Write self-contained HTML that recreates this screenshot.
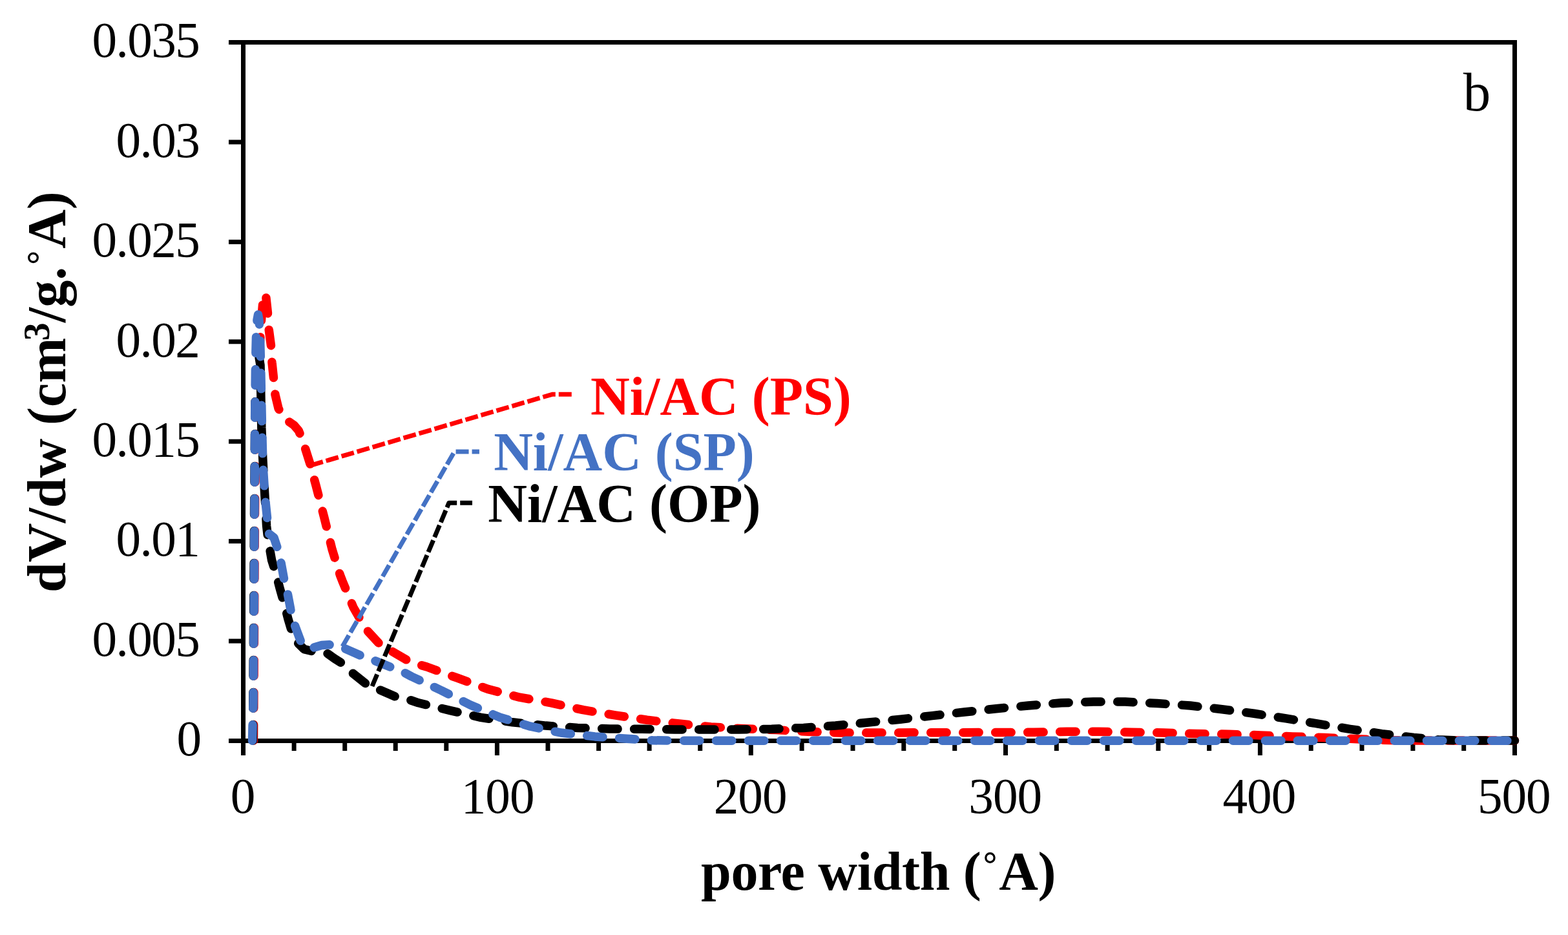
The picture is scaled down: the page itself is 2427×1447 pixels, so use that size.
<!DOCTYPE html><html><head><meta charset="utf-8"><style>html,body{margin:0;padding:0;background:#fff;overflow:hidden}svg{display:block}</style></head><body>
<svg width="2427" height="1447" viewBox="0 0 2427 1447">
<rect width="2427" height="1447" fill="#fff"/>
<rect x="376.5" y="65.5" width="1968" height="1081" fill="none" stroke="#000" stroke-width="7"/>
<g stroke="#000" stroke-width="7">
<line x1="354" y1="1146.5" x2="376.5" y2="1146.5"/>
<line x1="354" y1="992.1" x2="376.5" y2="992.1"/>
<line x1="354" y1="837.6" x2="376.5" y2="837.6"/>
<line x1="354" y1="683.2" x2="376.5" y2="683.2"/>
<line x1="354" y1="528.8" x2="376.5" y2="528.8"/>
<line x1="354" y1="374.4" x2="376.5" y2="374.4"/>
<line x1="354" y1="219.9" x2="376.5" y2="219.9"/>
<line x1="354" y1="65.5" x2="376.5" y2="65.5"/>
<line x1="376.5" y1="1146.5" x2="376.5" y2="1169"/>
<line x1="455.1" y1="1146.5" x2="455.1" y2="1162"/>
<line x1="533.7" y1="1146.5" x2="533.7" y2="1162"/>
<line x1="612.2" y1="1146.5" x2="612.2" y2="1162"/>
<line x1="690.8" y1="1146.5" x2="690.8" y2="1162"/>
<line x1="769.4" y1="1146.5" x2="769.4" y2="1169"/>
<line x1="848.0" y1="1146.5" x2="848.0" y2="1162"/>
<line x1="926.6" y1="1146.5" x2="926.6" y2="1162"/>
<line x1="1005.1" y1="1146.5" x2="1005.1" y2="1162"/>
<line x1="1083.7" y1="1146.5" x2="1083.7" y2="1162"/>
<line x1="1162.3" y1="1146.5" x2="1162.3" y2="1169"/>
<line x1="1241.1" y1="1146.5" x2="1241.1" y2="1162"/>
<line x1="1320.0" y1="1146.5" x2="1320.0" y2="1162"/>
<line x1="1398.8" y1="1146.5" x2="1398.8" y2="1162"/>
<line x1="1477.7" y1="1146.5" x2="1477.7" y2="1162"/>
<line x1="1556.5" y1="1146.5" x2="1556.5" y2="1169"/>
<line x1="1635.3" y1="1146.5" x2="1635.3" y2="1162"/>
<line x1="1714.1" y1="1146.5" x2="1714.1" y2="1162"/>
<line x1="1792.8" y1="1146.5" x2="1792.8" y2="1162"/>
<line x1="1871.6" y1="1146.5" x2="1871.6" y2="1162"/>
<line x1="1950.4" y1="1146.5" x2="1950.4" y2="1169"/>
<line x1="2029.2" y1="1146.5" x2="2029.2" y2="1162"/>
<line x1="2108.0" y1="1146.5" x2="2108.0" y2="1162"/>
<line x1="2186.9" y1="1146.5" x2="2186.9" y2="1162"/>
<line x1="2265.7" y1="1146.5" x2="2265.7" y2="1162"/>
<line x1="2344.5" y1="1146.5" x2="2344.5" y2="1169"/>
</g>
<g fill="none" stroke-width="13.5" stroke-linecap="round" stroke-linejoin="round" stroke-dasharray="24.5 25.5">
<polyline stroke="#FF0000" points="392.5,1146.0 394.5,790.0 396.0,660.0 400.0,560.0 403.0,522.0 404.5,496.0 406.5,472.0"/>
<polyline stroke="#FF0000" stroke-dasharray="none" points="411.9,461.0 414.5,485.0"/>
<polyline stroke="#FF0000" stroke-dashoffset="24.5" points="414.5,485.0 416.3,511.0 419.5,535.0 421.0,561.0 423.5,585.0 426.0,611.0 431.0,632.0 437.0,643.0 444.6,650.8 455.0,658.0 462.2,666.3 467.0,678.0 471.5,691.0 480.0,718.0 489.0,751.3 501.6,800.0 514.0,850.0 526.4,890.0 530.0,899.3 547.0,940.0 566.2,973.5 586.0,995.0 606.0,1007.6 629.0,1021.0 648.0,1028.3 660.6,1032.0 707.8,1049.2 754.9,1066.4 804.2,1079.2 853.4,1087.8 902.6,1098.7 952.0,1106.9 1001.5,1114.2 1051.0,1120.0 1100.4,1125.0 1151.5,1127.7 1200.9,1129.6 1250.3,1132.3 1301.4,1134.0 1351.0,1134.0 1450.0,1133.8 1550.0,1133.5 1600.0,1133.3 1651.0,1132.3 1700.5,1132.3 1751.6,1133.3 1801.0,1134.0 1850.5,1135.6 1901.6,1136.2 1951.0,1137.9 2000.5,1139.9 2050.0,1141.5 2101.0,1143.8 2150.4,1145.5 2200.0,1146.0 2344.5,1146.0"/>
<polyline stroke="#000000" points="391.5,1146.0 393.5,800.0 395.0,620.0 397.0,570.0 400.5,550.0 403.0,565.0 404.8,662.0 406.8,710.0 409.6,762.0 412.6,814.0 415.0,835.0 420.6,867.0 427.0,887.0 433.0,910.0 440.0,935.0 446.0,958.0 452.0,978.0 461.1,995.2 470.5,1004.6 482.3,1007.5 495.0,1009.0 505.2,1010.3 517.5,1019.0 529.4,1026.5 544.7,1040.8 567.1,1058.8 586.0,1066.9 613.0,1078.6 633.6,1083.0 647.8,1087.8 697.0,1099.6 744.2,1110.3 793.5,1117.8 844.9,1123.1 894.0,1126.4 943.8,1128.0 993.3,1128.3 1044.4,1129.0 1093.8,1129.0 1143.2,1129.0 1194.3,1128.3 1243.8,1126.4 1293.2,1123.0 1344.3,1118.0 1393.7,1113.2 1443.0,1107.6 1492.6,1102.0 1542.0,1096.7 1591.5,1092.0 1642.8,1087.8 1692.3,1086.1 1741.7,1086.1 1791.2,1088.5 1842.3,1092.0 1891.7,1097.7 1941.1,1104.3 1990.6,1111.9 2040.0,1120.1 2089.5,1128.3 2138.9,1135.6 2188.3,1141.5 2226.0,1144.8 2260.0,1146.0 2344.5,1146.0"/>
<polyline stroke="#4472C4" points="390.5,1146.2 392.1,1085.0 393.5,900.0 394.6,650.0 395.5,560.0 396.5,520.0 398.0,495.0 399.5,487.0 401.0,495.0 402.5,520.0 403.5,560.0 405.5,660.0 407.0,720.0 409.0,750.0 411.0,777.0 413.5,801.0 415.0,825.0 424.0,832.0 429.0,847.0 433.0,862.0 435.0,871.0 439.4,895.0 445.3,919.0 450.0,944.0 456.4,968.0 465.2,991.6 472.0,1000.0 478.0,1002.5 485.4,1002.2 498.0,998.6 511.0,997.7 520.0,999.0 530.3,1002.2 559.0,1014.8 578.8,1022.0 605.8,1032.8 625.5,1040.8 637.0,1047.0 650.7,1053.4 683.0,1068.5 728.0,1091.0 774.0,1110.3 821.0,1124.2 868.0,1134.0 920.8,1139.9 970.2,1143.2 1010.0,1145.8 1050.0,1146.2 2344.5,1146.2"/>
</g>
<g fill="none" stroke-width="7" stroke-dasharray="20 5" stroke-linejoin="round">
<polyline stroke="#FF0000" points="480.6,720.3 854.6,610.3 886,610.3"/>
<polyline stroke="#4472C4" points="530,1000.5 703.3,699 741.9,699"/>
<polyline stroke="#000000" points="576,1062 694.9,778.2 731,778.2"/>
</g>
<g font-family="'Liberation Serif', serif" font-size="77.2" fill="#000">
<text x="310.6" y="1169.2" text-anchor="end" letter-spacing="-1.6">0</text>
<text x="308.3" y="1014.8" text-anchor="end" letter-spacing="-1.6">0.005</text>
<text x="308.3" y="860.3" text-anchor="end" letter-spacing="-1.6">0.01</text>
<text x="308.3" y="705.9" text-anchor="end" letter-spacing="-1.6">0.015</text>
<text x="308.3" y="551.5" text-anchor="end" letter-spacing="-1.6">0.02</text>
<text x="308.3" y="397.1" text-anchor="end" letter-spacing="-1.6">0.025</text>
<text x="308.3" y="242.6" text-anchor="end" letter-spacing="-1.6">0.03</text>
<text x="308.3" y="88.2" text-anchor="end" letter-spacing="-1.6">0.035</text>
<text x="375.6" y="1258" text-anchor="middle" letter-spacing="-1">0</text>
<text x="770.1" y="1258" text-anchor="middle" letter-spacing="-1">100</text>
<text x="1161.1" y="1258" text-anchor="middle" letter-spacing="-1">200</text>
<text x="1555.7" y="1258" text-anchor="middle" letter-spacing="-1">300</text>
<text x="1948.9" y="1258" text-anchor="middle" letter-spacing="-1">400</text>
<text x="2343.3" y="1258" text-anchor="middle" letter-spacing="-1">500</text>
</g>
<text x="2264.7" y="170.5" font-family="'Liberation Serif', serif" font-size="85">b</text>
<g font-family="'Liberation Serif', serif" font-size="84" font-weight="bold">
<text x="914.1" y="641.5" fill="#FF0000">Ni/AC (PS)</text>
<text x="764.2" y="728.3" fill="#4472C4">Ni/AC (SP)</text>
<text x="755.3" y="808" fill="#000">Ni/AC (OP)</text>
</g>
<text x="1085" y="1377" font-family="'Liberation Serif', serif" font-size="84" font-weight="bold" letter-spacing="-0.3">pore width (<tspan font-weight="normal" dy="3.5">˚</tspan><tspan dy="-3.5">A)</tspan></text>
<text transform="translate(101,917) rotate(-90)" font-family="'Liberation Serif', serif" font-size="84" font-weight="bold">dV/dw (cm<tspan font-size="56" dx="-4.5" dy="-25.5">3</tspan><tspan dy="25.5">/g.</tspan><tspan font-weight="normal" dy="3.5">˚</tspan><tspan dy="-3.5">A)</tspan></text>
</svg></body></html>
